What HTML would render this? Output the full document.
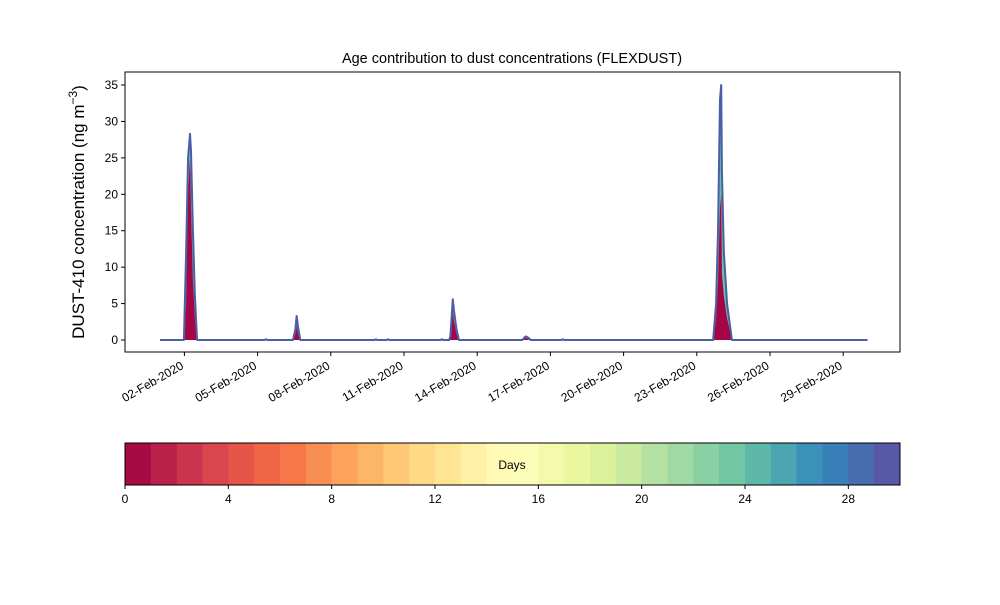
<!DOCTYPE html>
<html><head><meta charset="utf-8"><style>body{margin:0;background:#fff}svg{font-family:"Liberation Sans",sans-serif}</style></head>
<body>
<svg id="c" width="1000" height="600" xmlns="http://www.w3.org/2000/svg"></svg>
<script>
const times=[0,0.98,1.07,1.15,1.23,1.27,1.35,1.43,1.52,4.3,4.35,4.4,5.45,5.55,5.6,5.65,5.75,8.8,8.85,8.9,9.3,9.35,9.4,11.5,11.55,11.6,11.85,11.9,11.95,12.0,12.05,12.15,12.25,14.85,14.95,15.0,15.1,15.2,16.45,16.5,16.55,22.67,22.79,22.87,22.95,23.0,23.03,23.11,23.24,23.44,29];
const totalVals=[0,0,12,25,28.3,26,15,6,0,0,0.1,0,0,1.5,3.3,2,0,0,0.1,0,0,0.1,0,0,0.1,0,0,0.5,3,5.6,4,1.5,0,0,0.4,0.5,0.3,0,0,0.1,0,0,5,15,33,35,23,12,5,0,0];
const youngVals=[0,0,5,20,25,18,8,3,0,0,0,0,0,0.8,2,1,0,0,0,0,0,0,0,0,0,0,0,0.3,2,4,2.5,0.8,0,0,0.2,0.3,0.1,0,0,0,0,0,3,8,18,20,9,6,3,0,0];
const yTicks=[0,5,10,15,20,25,30,35];
const xTickDays=[1,4,7,10,13,16,19,22,25,28];
const xTickLabels=["02-Feb-2020","05-Feb-2020","08-Feb-2020","11-Feb-2020","14-Feb-2020","17-Feb-2020","20-Feb-2020","23-Feb-2020","26-Feb-2020","29-Feb-2020"];
const cbTicks=[0,4,8,12,16,20,24,28];
const NS="http://www.w3.org/2000/svg",svg=document.getElementById('c');
function mk(t,a,p){const e=document.createElementNS(NS,t);for(const k in a)e.setAttribute(k,a[k]);(p||svg).appendChild(e);return e;}
const X=d=>160+d*24.4, Y=v=>340-v*7.2857;
const L=125,R=900,T=72,B=352;
function area(vals,fill,name){let d='M'+X(times[0])+','+Y(0);times.forEach((t,i)=>d+='L'+X(t)+','+Y(vals[i]));d+='L'+X(times[times.length-1])+','+Y(0)+'Z';const e=mk('path',{d:d,fill:fill,stroke:'none'});}
area(totalVals,'#66c2a5','total-area');
area(youngVals,'#a50545','age-0-area');
let ld='';times.forEach((t,i)=>ld+=(i?'L':'M')+X(t)+','+Y(totalVals[i]));
const ln=mk('path',{d:ld,fill:'none',stroke:'#4a5fa8','stroke-width':2,'stroke-linejoin':'round'});

const fr=mk('rect',{x:L,y:T,width:R-L,height:B-T,fill:'none',stroke:'#000','stroke-width':1});

yTicks.forEach(v=>{mk('line',{x1:L-4,x2:L,y1:Y(v),y2:Y(v),stroke:'#000'});const t=mk('text',{x:L-7,y:Y(v)+4,'text-anchor':'end','font-size':12});t.textContent=v;});
xTickDays.forEach((d,i)=>{mk('line',{x1:X(d),x2:X(d),y1:B,y2:B+4,stroke:'#000'});const t=mk('text',{x:X(d),y:B+16,'text-anchor':'end','font-size':12,transform:`rotate(-30 ${X(d)} ${B+16})`});t.textContent=xTickLabels[i];});
const ti=mk('text',{x:512,y:63,'text-anchor':'middle','font-size':14.5});ti.textContent='Age contribution to dust concentrations (FLEXDUST)';
const yl=mk('text',{x:84,y:212,'text-anchor':'middle','font-size':17,transform:'rotate(-90 84 212)'});yl.innerHTML='DUST-410 concentration (ng m<tspan dy="-7" font-size="12">−3</tspan><tspan dy="7">)</tspan>';
// colorbar
const stops=['#9e0142','#d53e4f','#f46d43','#fdae61','#fee08b','#ffffbf','#e6f598','#abdda4','#66c2a5','#3288bd','#5e4fa2'];
const h2r=h=>[1,3,5].map(i=>parseInt(h.substr(i,2),16));
function cmap(f){const p=f*10,i=Math.min(9,Math.floor(p)),r=p-i,a=h2r(stops[i]),b=h2r(stops[i+1]);return 'rgb('+a.map((v,k)=>Math.round(v+(b[k]-v)*r)).join(',')+')';}
const cw=(R-L)/30;
for(let i=0;i<30;i++){const r=mk('rect',{x:L+i*cw,y:443,width:cw+0.5,height:42,fill:cmap((i+0.5)/30)});}
mk('rect',{x:L,y:443,width:R-L,height:42,fill:'none',stroke:'#000'});
const dl=mk('text',{x:512,y:469,'text-anchor':'middle','font-size':12});dl.textContent='Days';
cbTicks.forEach(v=>{const x=L+v*cw;mk('line',{x1:x,x2:x,y1:485,y2:489,stroke:'#000'});const t=mk('text',{x:x,y:503,'text-anchor':'middle','font-size':12});t.textContent=v;});
</script>
</body></html>
